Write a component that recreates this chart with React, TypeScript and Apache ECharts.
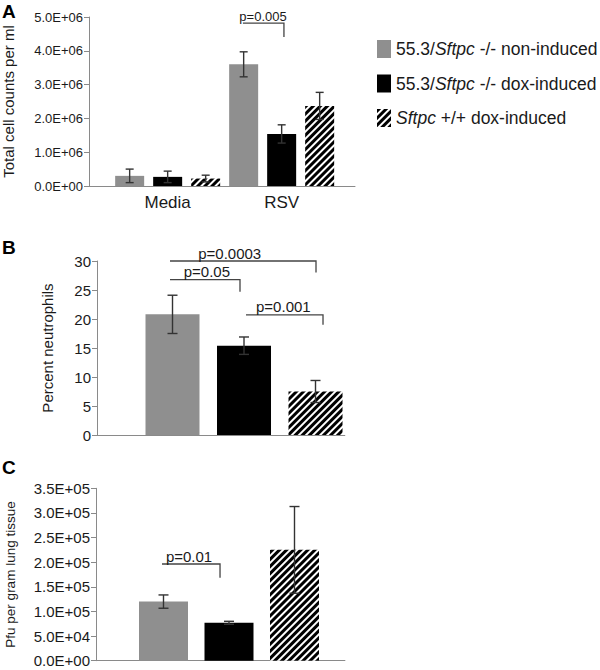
import React, { useEffect, useRef } from "react";
import * as echarts from "echarts";

// ---------- data ----------
const seriesNames = [
  "55.3/Sftpc -/- non-induced",
  "55.3/Sftpc -/- dox-induced",
  "Sftpc +/+ dox-induced",
];

// Panel A: total cell counts per ml
const groupsA = ["Media", "RSV"];
const countsNonInduced = [3.0e5, 3.6e6];
const countsNonInducedErr = [2.0e5, 3.7e5];
const countsDoxInduced = [2.7e5, 1.54e6];
const countsDoxInducedErr = [1.7e5, 2.7e5];
const countsWildType = [2.2e5, 2.37e6];
const countsWildTypeErr = [1.0e5, 4.0e5];

// Panel B: percent neutrophils (one bar per genotype)
const neutrophilMeans = [20.8, 15.4, 7.5];
const neutrophilErr = [3.3, 1.5, 1.9];

// Panel C: pfu per gram lung tissue
const pfuMeans = [1.2e5, 7.7e4, 2.25e5];
const pfuErr = [1.35e4, 3.0e3, 8.8e4];

// significance brackets: from/to/textX in bar-slot units, y/drop in data units
const bracketsA = [{ from: 3.98, to: 5.06, y: 4.82e6, drop: 4.41e6, textX: 4.51, label: "p=0.005" }];
const bracketsB = [
  { from: 0.965, to: 3.007, y: 30.0, drop: 28.0, textX: 1.8, label: "p=0.0003" },
  { from: 0.965, to: 1.944, y: 26.8, drop: 24.7, textX: 1.48, label: "p=0.05" },
  { from: 2.028, to: 3.105, y: 20.7, drop: 19.0, textX: 2.55, label: "p=0.001" },
];
const bracketsC = [{ from: 0.977, to: 1.863, y: 1.963e5, drop: 1.685e5, textX: 1.39, label: "p=0.01" }];

// ---------- styling ----------
const FONT = '"Liberation Sans", Arial, Helvetica, sans-serif';
const TEXT = "#1a1a1a";
const AXIS = "#8a8a8a";
const GRAY = "#8f8f8f";
const ERR = "#333333";

const hatch = {
  color: "#ffffff",
  decal: {
    symbol: "rect",
    symbolSize: 1,
    dashArrayX: [1, 0],
    dashArrayY: [3, 2],
    rotation: -Math.PI / 4,
    color: "#000000",
  },
};
const barStyles = [{ color: GRAY }, { color: "#000000" }, hatch];

const sciFmt = (v: number) => {
  if (v === 0) return "0.0E+00";
  const e = Math.floor(Math.log10(v) + 1e-9);
  const m = v / Math.pow(10, e);
  return m.toFixed(1) + "E+" + String(e).padStart(2, "0");
};

function errorSeries(idx: number, data: number[][], half: number) {
  return {
    type: "custom",
    name: "err" + idx,
    xAxisIndex: idx,
    yAxisIndex: idx,
    z: 5,
    silent: true,
    data,
    renderItem: (_p: any, api: any) => {
      const x = api.value(0);
      const top = api.coord([x, api.value(2)]);
      const bot = api.coord([x, api.value(1)]);
      const st = { stroke: ERR, lineWidth: 1.4 };
      return {
        type: "group",
        children: [
          { type: "line", shape: { x1: top[0], y1: top[1], x2: bot[0], y2: bot[1] }, style: st },
          { type: "line", shape: { x1: top[0] - half, y1: top[1], x2: top[0] + half, y2: top[1] }, style: st },
          { type: "line", shape: { x1: bot[0] - half, y1: bot[1], x2: bot[0] + half, y2: bot[1] }, style: st },
        ],
      };
    },
  };
}

function bracketSeries(idx: number, list: any[], fontSize: number) {
  return {
    type: "custom",
    name: "sig" + idx,
    xAxisIndex: idx,
    yAxisIndex: idx,
    z: 6,
    silent: true,
    clip: false,
    data: list.map((b) => [b.from, b.to, b.y, b.drop, b.textX]),
    renderItem: (params: any, api: any) => {
      const p1 = api.coord([api.value(0), api.value(2)]);
      const p2 = api.coord([api.value(1), api.value(2)]);
      const p3 = api.coord([api.value(1), api.value(3)]);
      const pt = api.coord([api.value(4), api.value(2)]);
      return {
        type: "group",
        children: [
          {
            type: "polyline",
            shape: { points: [p1, p2, p3] },
            style: { stroke: "#444", lineWidth: 1.3, fill: null },
          },
          {
            type: "text",
            x: pt[0],
            y: pt[1] - 0.5,
            style: {
              text: list[params.dataIndex].label,
              fontSize,
              fontFamily: FONT,
              fill: TEXT,
              align: "center",
              verticalAlign: "bottom",
            },
          },
        ],
      };
    },
  };
}

function yAxis(idx: number, max: number, interval: number, fmt: any, labelSize: number, name: string, nameSize: number, nameGap: number) {
  return {
    gridIndex: idx,
    type: "value",
    min: 0,
    max,
    interval,
    name,
    nameLocation: "middle",
    nameGap,
    nameTextStyle: { fontSize: nameSize, fontFamily: FONT, color: TEXT },
    axisLine: { show: true, onZero: false, lineStyle: { color: AXIS, width: 1 } },
    axisTick: { show: true, length: 5, lineStyle: { color: AXIS } },
    splitLine: { show: false },
    axisLabel: { fontSize: labelSize, fontFamily: FONT, color: TEXT, margin: 6, formatter: fmt },
  };
}

function xAxis(idx: number, min: number, max: number, extra: any = {}) {
  return {
    gridIndex: idx,
    type: "value",
    min,
    max,
    axisLine: { show: true, onZero: false, lineStyle: { color: AXIS, width: 1 } },
    axisTick: { show: false },
    splitLine: { show: false },
    axisLabel: { show: false },
    ...extra,
  };
}

// slot geometry (px per bar slot) for each panel
const A_MIN = -0.07, A_MAX = 6.93, A_SLOT = 38;
const B_MIN = -0.056, B_MAX = 3.41, B_SLOT = 71.5;
const C_MIN = -0.0305, C_MAX = 3.77, C_SLOT = 65.5;

const countsA = [countsNonInduced, countsDoxInduced, countsWildType];
const countsAErr = [countsNonInducedErr, countsDoxInducedErr, countsWildTypeErr];
const slotA = (g: number, s: number) => g * 3 + s + 1;

const series: any[] = [];
seriesNames.forEach((name, s) => {
  series.push({
    type: "bar",
    name,
    xAxisIndex: 0,
    yAxisIndex: 0,
    barWidth: 29,
    barGap: "-100%",
    itemStyle: barStyles[s],
    data: groupsA.map((_, g) => [slotA(g, s), countsA[s][g]]),
  });
});
seriesNames.forEach((name, s) => {
  series.push({
    type: "bar",
    name,
    xAxisIndex: 1,
    yAxisIndex: 1,
    barWidth: 54,
    barGap: "-100%",
    itemStyle: barStyles[s],
    data: [[s + 1, neutrophilMeans[s]]],
  });
});
seriesNames.forEach((name, s) => {
  series.push({
    type: "bar",
    name,
    xAxisIndex: 2,
    yAxisIndex: 2,
    barWidth: 49,
    barGap: "-100%",
    itemStyle: barStyles[s],
    data: [[s + 1, pfuMeans[s]]],
  });
});

const errA: number[][] = [];
seriesNames.forEach((_, s) =>
  groupsA.forEach((_, g) => errA.push([slotA(g, s), countsA[s][g] - countsAErr[s][g], countsA[s][g] + countsAErr[s][g]]))
);
series.push(errorSeries(0, errA, 4));
series.push(errorSeries(1, neutrophilMeans.map((m, s) => [s + 1, m - neutrophilErr[s], m + neutrophilErr[s]]), 5));
series.push(errorSeries(2, pfuMeans.map((m, s) => [s + 1, m - pfuErr[s], m + pfuErr[s]]), 5));
series.push(bracketSeries(0, bracketsA, 13));
series.push(bracketSeries(1, bracketsB, 15));
series.push(bracketSeries(2, bracketsC, 15));

const option: any = {
  animation: false,
  backgroundColor: "#ffffff",
  textStyle: { fontFamily: FONT },
  grid: [
    { left: 89, top: 17, width: (A_MAX - A_MIN) * A_SLOT, height: 169, outerBoundsMode: "none" },
    { left: 97, top: 261, width: (B_MAX - B_MIN) * B_SLOT, height: 174, outerBoundsMode: "none" },
    { left: 96, top: 488.3, width: (C_MAX - C_MIN) * C_SLOT, height: 172.4, outerBoundsMode: "none" },
  ],
  xAxis: [
    xAxis(0, A_MIN, A_MAX, {
      axisLabel: {
        show: true,
        customValues: groupsA.map((_, g) => slotA(g, 1)),
        formatter: (v: number) => groupsA[Math.round((v - 2) / 3)] ?? "",
        fontSize: 17,
        fontFamily: FONT,
        color: TEXT,
        margin: 8,
      },
    }),
    xAxis(1, B_MIN, B_MAX),
    xAxis(2, C_MIN, C_MAX),
  ],
  yAxis: [
    yAxis(0, 5e6, 1e6, sciFmt, 13, "Total cell counts per ml", 15, 73),
    yAxis(1, 30, 5, (v: number) => String(v), 15, "Percent neutrophils", 15, 42),
    yAxis(2, 3.5e5, 5e4, sciFmt, 15, "Pfu per gram lung tissue", 13.5, 79),
  ],
  legend: {
    orient: "vertical",
    left: 372,
    top: 35,
    itemWidth: 14,
    itemHeight: 18,
    itemGap: 16.5,
    icon: "rect",
    selectedMode: false,
    data: seriesNames,
    formatter: (name: string) => name.replace("Sftpc", "{i|Sftpc}"),
    textStyle: {
      fontSize: 17.5,
      fontFamily: FONT,
      color: TEXT,
      lineHeight: 18,
      rich: { i: { fontStyle: "italic", fontSize: 17.5, fontFamily: FONT, color: TEXT, lineHeight: 18 } },
    },
  },
  graphic: [
    { type: "text", left: 2, top: 2, style: { text: "A", fontSize: 19, fontWeight: "bold", fontFamily: FONT, fill: "#000" } },
    { type: "text", left: 2, top: 238, style: { text: "B", fontSize: 19, fontWeight: "bold", fontFamily: FONT, fill: "#000" } },
    { type: "text", left: 2, top: 458, style: { text: "C", fontSize: 19, fontWeight: "bold", fontFamily: FONT, fill: "#000" } },
  ],
  series,
};

export default function App() {
  const ref = useRef<HTMLDivElement>(null);
  useEffect(() => {
    document.body.style.margin = "0";
    const chart = echarts.init(ref.current as HTMLDivElement, null, { renderer: "svg" });
    chart.setOption(option);
    return () => chart.dispose();
  }, []);
  return <div ref={ref} style={{ width: 600, height: 670 }} />;
}
